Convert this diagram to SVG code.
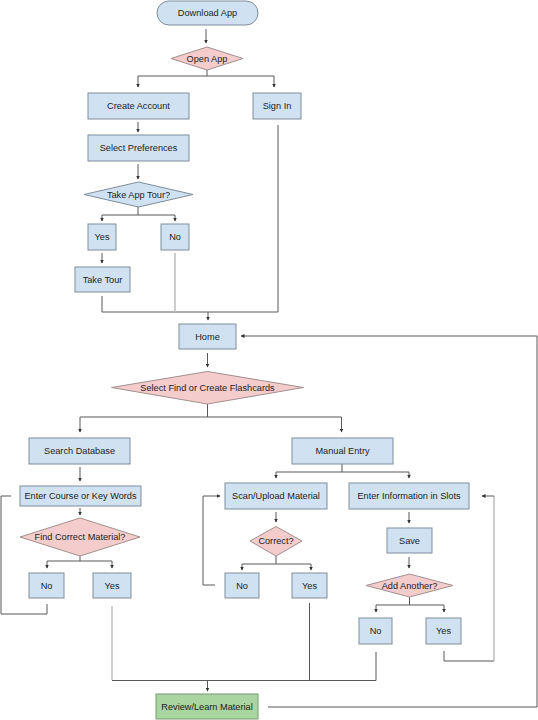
<svg xmlns="http://www.w3.org/2000/svg" width="538" height="720" viewBox="0 0 538 720">
<style>
.b{fill:#d0e2f2;stroke:#7f8d99;stroke-width:1}
.p{fill:#f4cccc;stroke:#a38f8f;stroke-width:1}
.g{fill:#a8d5a0;stroke:#789a72;stroke-width:1}
text{font-family:"Liberation Sans",Arial,sans-serif;font-size:9.2px;fill:#222;text-anchor:middle;dominant-baseline:central}
.c path{fill:none;stroke:#595959;stroke-width:1}
.c path.l{stroke:#bdbdbd;stroke-width:1.5}
</style>
<defs>
<marker id="a" markerUnits="userSpaceOnUse" markerWidth="4" markerHeight="4" refX="3.5" refY="2" orient="auto">
<path d="M0,0 L4,2 L0,4 z" fill="#333"/>
</marker>
</defs>
<rect width="538" height="720" fill="#fff"/>
<g class="c">
<path d="M206,29 V43" marker-end="url(#a)"/>
<path d="M207,70 V76 H138 V87" marker-end="url(#a)"/>
<path d="M207,76 H274 V87" marker-end="url(#a)"/>
<path d="M138,122 V132" marker-end="url(#a)"/>
<path d="M138,164 V179" marker-end="url(#a)"/>
<path d="M138,207 V215 H102 V221" marker-end="url(#a)"/>
<path d="M138,215 H175 V221" marker-end="url(#a)"/>
<path d="M102,253 V263" marker-end="url(#a)"/>
<path d="M102,296 V312 H278 V125"/>
<path class="l" d="M175,253 V312"/>
<path d="M208,312 V320" marker-end="url(#a)"/>
<path d="M268,707 H537 V336 H241" marker-end="url(#a)"/>
<path d="M207.5,353 V367" marker-end="url(#a)"/>
<path d="M207.5,404 V417 H80 V432" marker-end="url(#a)"/>
<path d="M207.5,417 H341.5 V432" marker-end="url(#a)"/>
<path d="M80,467 V481" marker-end="url(#a)"/>
<path d="M80,508 V515" marker-end="url(#a)"/>
<path d="M80,556 V561 H47 V568" marker-end="url(#a)"/>
<path d="M80,561 H112 V568" marker-end="url(#a)"/>
<path d="M47,604 V614 H1 V496 H11"/>
<path class="l" d="M112,606 V680"/>
<path d="M342,464 V472 H276 V478" marker-end="url(#a)"/>
<path d="M342,472 H409 V478" marker-end="url(#a)"/>
<path d="M276,512 V522" marker-end="url(#a)"/>
<path d="M276,556 V564 H242 V570" marker-end="url(#a)"/>
<path d="M276,564 H311 V570" marker-end="url(#a)"/>
<path d="M215,585 H203 V496 H220" marker-end="url(#a)"/>
<path d="M309.5,603 V680"/>
<path d="M409,512 V523" marker-end="url(#a)"/>
<path d="M409,557 V568" marker-end="url(#a)"/>
<path d="M409.5,597 V605 H376 V612" marker-end="url(#a)"/>
<path d="M409.5,605 H444 V612" marker-end="url(#a)"/>
<path d="M444,651 V661 H494"/>
<path class="l" d="M494,661 V496"/>
<path d="M494,496 H482" marker-end="url(#a)"/>
<path d="M112,680.5 H376 V652"/>
<path d="M207.5,680.5 V691" marker-end="url(#a)"/>
</g>
<g id="download"><rect class="b" x="157" y="1" width="101" height="24" rx="12"/><text x="207.5" y="13">Download App</text></g>
<g id="openapp"><polygon class="p" points="171,58.5 207,47 243,58.5 207,70"/><text x="207" y="58.5">Open App</text></g>
<g id="create"><rect class="b" x="88" y="93" width="101" height="26"/><text x="138.5" y="106">Create Account</text></g>
<g id="signin"><rect class="b" x="253" y="93" width="48" height="26"/><text x="277" y="106">Sign In</text></g>
<g id="prefs"><rect class="b" x="88" y="135" width="101" height="26"/><text x="138.5" y="148">Select Preferences</text></g>
<g id="tour"><polygon class="p" style="fill:#d0e2f2;stroke:#7f8d99" points="84,194.5 138.5,182 193,194.5 138.5,207"/><text x="138.5" y="194.5">Take App Tour?</text></g>
<g id="touryes"><rect class="b" x="88" y="224" width="28" height="26"/><text x="102" y="237">Yes</text></g>
<g id="tourno"><rect class="b" x="161" y="224" width="28" height="26"/><text x="175" y="237">No</text></g>
<g id="taketour"><rect class="b" x="75" y="267" width="55" height="25"/><text x="102.5" y="279.5">Take Tour</text></g>
<g id="home"><rect class="b" x="179" y="324" width="57" height="25"/><text x="207.5" y="336.5">Home</text></g>
<g id="select"><polygon class="p" points="111.5,387.5 207.5,371.5 303.5,387.5 207.5,404"/><text x="207.5" y="387.5">Select Find or Create Flashcards</text></g>
<g id="search"><rect class="b" x="29" y="438" width="101" height="26"/><text x="79.5" y="451">Search Database</text></g>
<g id="entercourse"><rect class="b" x="20" y="486" width="121" height="20"/><text x="80.5" y="496">Enter Course or Key Words</text></g>
<g id="findcorrect"><polygon class="p" points="20,537 80,518 140,537 80,556"/><text x="80" y="537">Find Correct Material?</text></g>
<g id="findno"><rect class="b" x="29" y="573" width="35" height="25"/><text x="46.5" y="585.5">No</text></g>
<g id="findyes"><rect class="b" x="93" y="573" width="38" height="25"/><text x="112" y="585.5">Yes</text></g>
<g id="manual"><rect class="b" x="292" y="438" width="101" height="26"/><text x="342.5" y="451">Manual Entry</text></g>
<g id="scan"><rect class="b" x="225" y="483" width="102" height="26"/><text x="276" y="496">Scan/Upload Material</text></g>
<g id="correct"><polygon class="p" points="250,541 276,526.5 302,541 276,556"/><text x="276" y="541">Correct?</text></g>
<g id="correctno"><rect class="b" x="225" y="573" width="34" height="25"/><text x="242" y="585.5">No</text></g>
<g id="correctyes"><rect class="b" x="292" y="573" width="35" height="25"/><text x="309.5" y="585.5">Yes</text></g>
<g id="enterinfo"><rect class="b" x="349" y="483" width="120" height="26"/><text x="409" y="496">Enter Information in Slots</text></g>
<g id="save"><rect class="b" x="387" y="528" width="45" height="25"/><text x="409.5" y="540.5">Save</text></g>
<g id="addanother"><polygon class="p" points="366,585.5 409.5,574 453,585.5 409.5,597"/><text x="409.5" y="585.5">Add Another?</text></g>
<g id="addno"><rect class="b" x="359" y="618" width="33" height="26"/><text x="375.5" y="631">No</text></g>
<g id="addyes"><rect class="b" x="426" y="618" width="35" height="26"/><text x="443.5" y="631">Yes</text></g>
<g id="review"><rect class="g" x="156" y="694" width="102" height="25"/><text x="207" y="706.5">Review/Learn Material</text></g>
</svg>
